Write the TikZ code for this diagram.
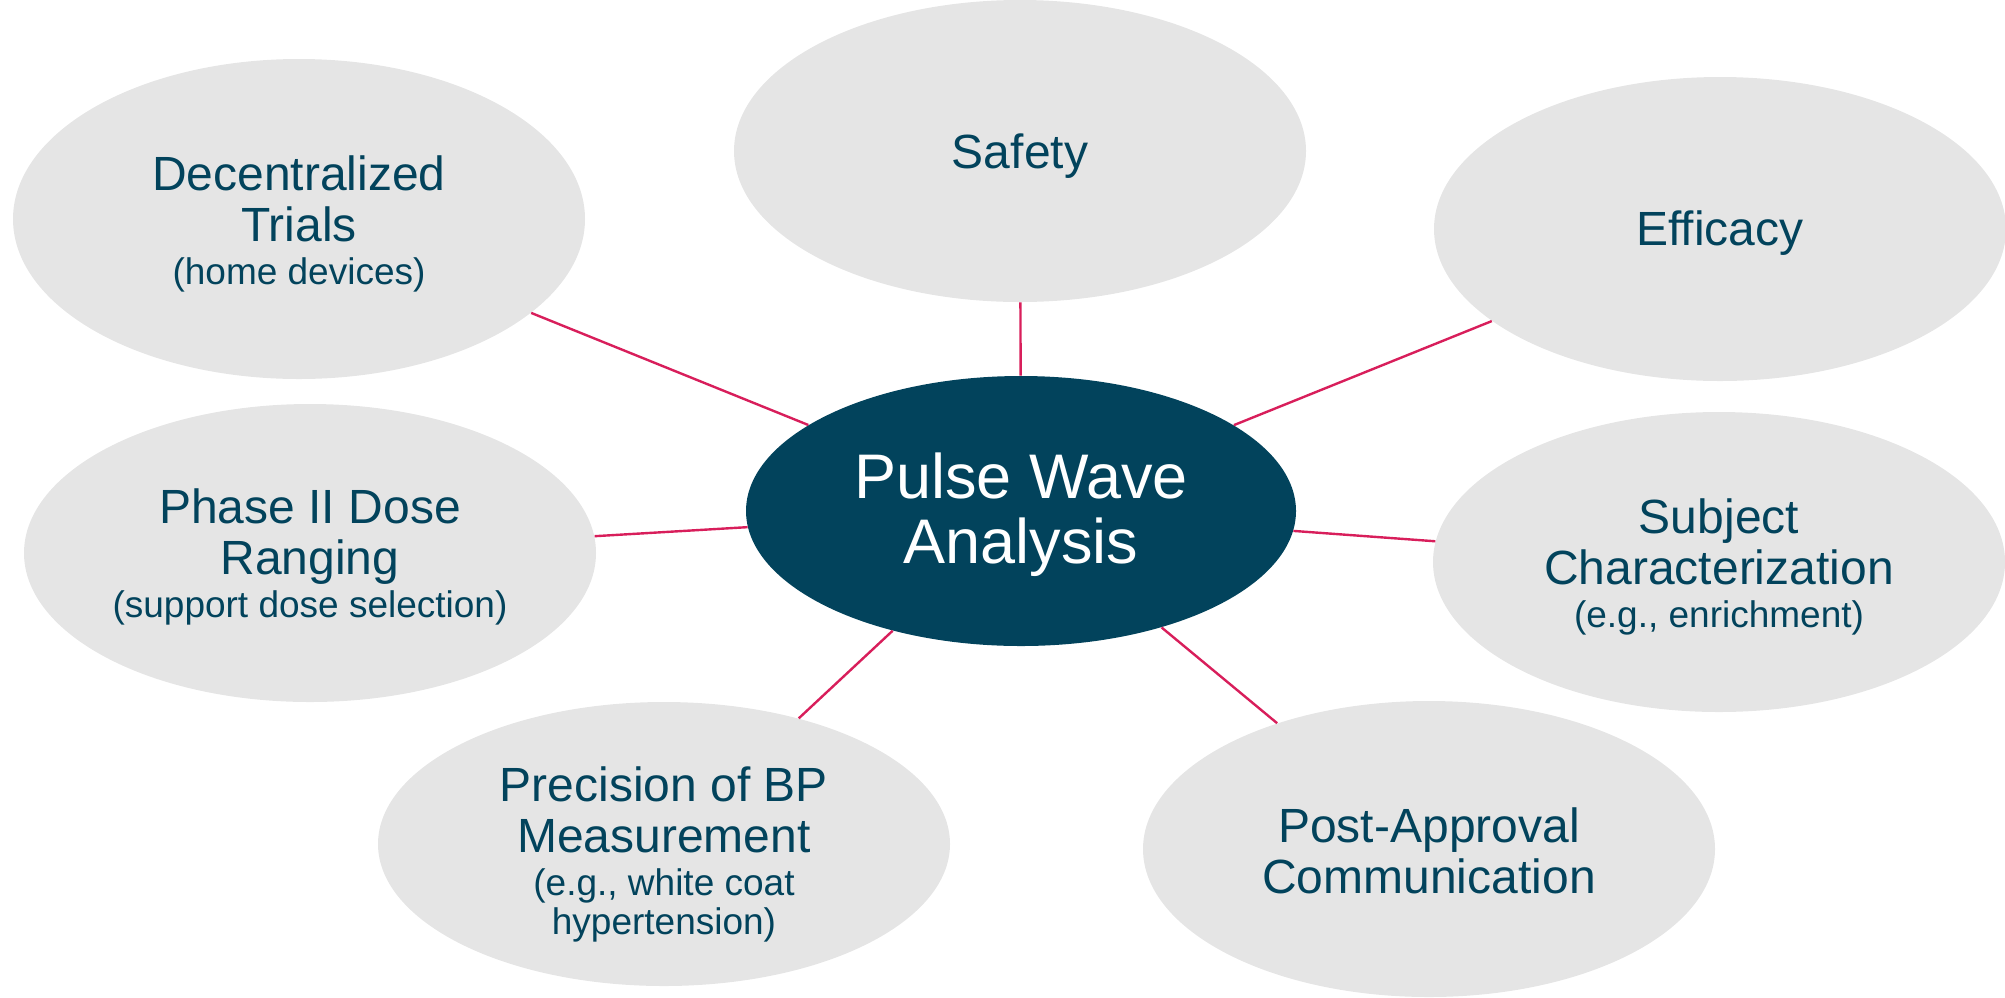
\documentclass[tikz,border=0pt]{standalone}
\usepackage{fontspec}
\setmainfont{Liberation Sans}
\usetikzlibrary{shapes.geometric}
\definecolor{pwdark}{HTML}{02435C}
\definecolor{pwgrey}{HTML}{E5E5E5}
\definecolor{pwline}{HTML}{D81E5B}
\newcommand\pwmain{\fontsize{24pt}{25.5pt}\selectfont}
\newcommand\pwsub{\fontsize{18.5pt}{20.5pt}\selectfont}
\newcommand\pwbig{\fontsize{31.5pt}{32.5pt}\selectfont}
\newcommand\pwlift[1]{\rule{0pt}{#1pt}}
\begin{document}
\begin{tikzpicture}[x=0.5pt,y=-0.5pt,
  sat/.style={ellipse, fill=pwgrey, inner sep=0pt, minimum width=286pt,
    minimum height=150pt, align=center, text=pwdark, font=\pwmain},
  hub/.style={ellipse, fill=pwdark, inner sep=0pt, minimum width=275pt,
    minimum height=135pt, align=center, text=white, font=\pwbig},
  link/.style={draw=pwline, line width=1.2pt}]
\useasboundingbox (0,0) rectangle (2005,997);
\node[hub] (cen) at (1021,511) {\pwlift{26.8}Pulse Wave\\Analysis};
\node[sat, minimum height=160pt] (dec) at (299,219) {\pwlift{22}Decentralized\\Trials\\[-4pt]\pwsub (home devices)};
\node[sat, minimum height=151pt] (saf) at (1020,151) {\pwlift{22.7}Safety};
\node[sat, minimum height=152pt] (eff) at (1720,229) {\pwlift{21.3}Efficacy};
\node[sat, minimum height=149pt] (pha) at (310,553) {\pwlift{21.3}Phase II Dose\\Ranging\\[-4pt]\pwsub (support dose selection)};
\node[sat, minimum height=150pt] (sub) at (1719,562) {\pwlift{22}Subject\\Characterization\\[-4pt]\pwsub (e.g., enrichment)};
\node[sat, minimum height=142pt] (pre) at (664,844) {\pwlift{27.7}Precision of BP\\Measurement\\[-4pt]\pwsub (e.g., white coat\\[-6pt]\pwsub hypertension)};
\node[sat, minimum height=148pt] (pos) at (1429,849) {\pwlift{19.5}Post-Approval\\Communication};
\foreach \s in {dec,saf,eff,pha,sub,pre,pos}
  \draw[link] (cen) -- (\s);
\end{tikzpicture}
\end{document}
